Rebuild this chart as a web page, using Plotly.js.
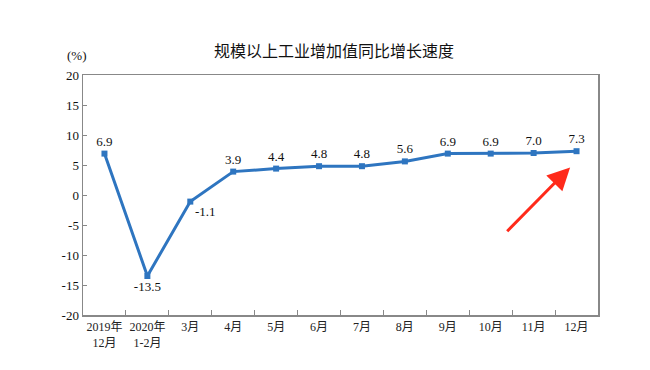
<!DOCTYPE html>
<html>
<head>
<meta charset="utf-8">
<script src="https://cdn.plot.ly/plotly-3.0.1.min.js"></script>
<style>html,body{margin:0;padding:0;background:#fff;}#chart{width:650px;height:370px;}</style>
</head>
<body>
<div id="chart"></div>
<script>
const categories = ["2019年<br>12月", "2020年<br>1-2月", "3月", "4月", "5月", "6月", "7月", "8月", "9月", "10月", "11月", "12月"];
const growth = [6.9, -13.5, -1.1, 3.9, 4.4, 4.8, 4.8, 5.6, 6.9, 6.9, 7.0, 7.3];
const labels = ["6.9", "-13.5", "-1.1", "3.9", "4.4", "4.8", "4.8", "5.6", "6.9", "6.9", "7.0", "7.3"];
const labelPos = ["top center", "bottom center", "bottom right", "top center", "top center", "top center", "top center", "top center", "top center", "top center", "top center", "top center"];
const yTicks = [-20, -15, -10, -5, 0, 5, 10, 15, 20];

const serif = "'Liberation Serif', 'Times New Roman', 'Noto Sans CJK SC', serif";

const trace = {
  x: categories,
  y: growth,
  type: 'scatter',
  mode: 'lines+markers+text',
  text: labels,
  textposition: labelPos,
  textfont: {family: serif, size: 13, color: '#111'},
  line: {color: '#2E75C0', width: 3},
  marker: {symbol: 'square', size: 6, color: '#2E75C0'},
  cliponaxis: false,
  hoverinfo: 'skip'
};

const layout = {
  width: 650,
  height: 370,
  margin: {l: 83, r: 52, t: 75, b: 55},
  paper_bgcolor: '#fff',
  plot_bgcolor: '#fff',
  showlegend: false,
  title: {
    text: '规模以上工业增加值同比增长速度',
    font: {family: "'Noto Sans CJK SC', sans-serif", size: 16, color: '#111'},
    xref: 'container', x: 0.514, xanchor: 'center',
    yref: 'container', y: 0.86, yanchor: 'middle'
  },
  xaxis: {
    type: 'category',
    tickson: 'boundaries',
    ticks: 'inside',
    ticklen: 5,
    tickcolor: '#888',
    tickangle: 0,
    showline: true,
    linecolor: '#888',
    linewidth: 1.5,
    mirror: true,
    showgrid: false,
    zeroline: false,
    tickfont: {family: serif, size: 12, color: '#222'},
    range: [-0.5, 11.5]
  },
  yaxis: {
    range: [-20, 20],
    tickvals: yTicks,
    ticktext: yTicks.map(String),
    ticks: 'inside',
    ticklen: 4,
    tickcolor: '#888',
    showline: true,
    linecolor: '#888',
    linewidth: 1.5,
    mirror: true,
    showgrid: false,
    zeroline: false,
    tickfont: {family: serif, size: 13, color: '#111'}
  },
  annotations: [
    {
      text: '(%)', xref: 'paper', yref: 'paper', x: -0.012, y: 1.04,
      xanchor: 'center', yanchor: 'bottom', showarrow: false,
      font: {family: serif, size: 13, color: '#111'}
    },
    {
      x: 10.85, y: 4.6, xref: 'x', yref: 'y',
      ax: 9.35, ay: -6.3, axref: 'x', ayref: 'y',
      text: '', showarrow: true,
      arrowhead: 2, arrowsize: 1.5, arrowwidth: 3, arrowcolor: '#FF2A1A'
    }
  ]
};

Plotly.newPlot('chart', [trace], layout, {displayModeBar: false, staticPlot: true});
</script>
</body>
</html>
